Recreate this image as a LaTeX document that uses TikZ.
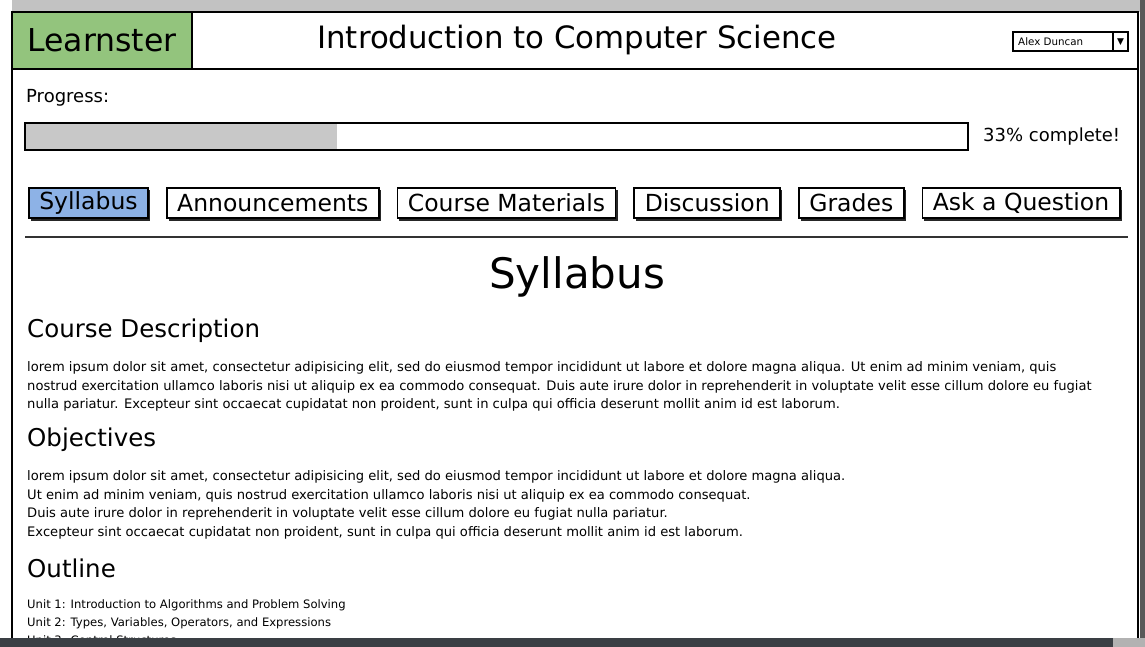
\documentclass[tikz,border=0pt]{standalone}
\usepackage{fontspec}
\setmainfont{DejaVu Sans}
\usetikzlibrary{positioning, calc, shadows}

\definecolor{learngreen}{HTML}{93C47D}
\definecolor{tabblue}{HTML}{8DB2E6}
\definecolor{bargray}{HTML}{C8C8C8}
\definecolor{chromegray}{HTML}{C2C2C2}
\definecolor{scrolldark}{HTML}{3A3F44}

\begin{document}
\begin{tikzpicture}[
  x=1pt, y=-1pt,
  frame/.style = {draw, line width=2pt},
  tab/.style = {draw, line width=1.6pt, fill=white, minimum height=30pt, inner xsep=10.5pt, inner ysep=0pt,
    font=\fontsize{23.5}{27}\selectfont,
    drop shadow={shadow xshift=2pt, shadow yshift=-2.5pt, opacity=1, fill=black!85}},
  heading/.style = {anchor=west, inner sep=0pt, font=\fontsize{24.5}{29}\selectfont},
  body/.style = {anchor=west, align=left, inner sep=0pt, font=\fontsize{13.1}{18.5}\selectfont},
  node distance=17pt
]
  \useasboundingbox (0,0) rectangle (1145,647);

  % Window chrome
  \fill[chromegray] (12,0) rectangle (1140,12);
  \fill[gray!70!black] (1140,0) rectangle (1145,647);

  % Header
  \fill[learngreen] (12,12) rectangle (192,69);
  \draw[frame] (12,640) -- (12,12) -- (1138,12) -- (1138,640);
  \draw[frame] (12,69) -- (1138,69);
  \draw[frame] (192,12) -- (192,69);
  \node[font=\fontsize{31.5}{37}\selectfont] (logo) at (102,40) {Learnster};
  \node[font=\fontsize{30.8}{36}\selectfont] (title) at (577,40) {Introduction to Computer Science};

  % User drop-down
  \draw[line width=1.2pt] (1013,32) rectangle (1128,51);
  \draw[line width=1.2pt] (1113,32) -- (1113,51);
  \node[anchor=west, inner sep=0pt, font=\fontsize{10.3}{12}\selectfont] (user) at (1018,41.5) {Alex Duncan};
  \node[inner sep=0pt, font=\fontsize{9}{10}\selectfont] (userarrow) at (1120.5,42) {▼};

  % Progress
  \node[anchor=west, inner sep=0pt, font=\fontsize{18}{21}\selectfont] (progresslabel) at (26,98) {Progress:};
  \fill[bargray] (25,123) rectangle (337,150);
  \draw[frame] (25,123) rectangle (968,150);
  \node[anchor=west, inner sep=0pt, font=\fontsize{18}{21}\selectfont] (progresstext) at (983,137) {33\% complete!};

  % Tabs
  \node[tab, fill=tabblue, anchor=west] (tabsyllabus) at (28,203) {Syllabus};
  \node[tab, right=of tabsyllabus] (tabannounce) {Announcements};
  \node[tab, right=of tabannounce] (tabmaterials) {Course Materials};
  \node[tab, right=of tabmaterials] (tabdiscussion) {Discussion};
  \node[tab, right=of tabdiscussion] (tabgrades) {Grades};
  \node[tab, right=of tabgrades] (tabask) {Ask a Question};
  \draw[line width=1.3pt, black!80] (25,237) -- (1128,237);

  % Page content
  \node[font=\fontsize{42}{48}\selectfont] (pagetitle) at (577,277) {Syllabus};

  \node[heading] (deschead) at (27,331) {Course Description};
  \node[body] (desctext) at (27,386.5) {lorem ipsum dolor sit amet, consectetur adipisicing elit, sed do eiusmod tempor incididunt ut labore et dolore magna aliqua. Ut enim ad minim veniam, quis\\
nostrud exercitation ullamco laboris nisi ut aliquip ex ea commodo consequat. Duis aute irure dolor in reprehenderit in voluptate velit esse cillum dolore eu fugiat\\
nulla pariatur. Excepteur sint occaecat cupidatat non proident, sunt in culpa qui officia deserunt mollit anim id est laborum.};

  \node[heading] (objhead) at (27,440) {Objectives};
  \node[body] (objtext) at (27,505) {lorem ipsum dolor sit amet, consectetur adipisicing elit, sed do eiusmod tempor incididunt ut labore et dolore magna aliqua.\\
Ut enim ad minim veniam, quis nostrud exercitation ullamco laboris nisi ut aliquip ex ea commodo consequat.\\
Duis aute irure dolor in reprehenderit in voluptate velit esse cillum dolore eu fugiat nulla pariatur.\\
Excepteur sint occaecat cupidatat non proident, sunt in culpa qui officia deserunt mollit anim id est laborum.};

  \node[heading] (outhead) at (27,568) {Outline};
  \node[body, font=\fontsize{11.6}{18}\selectfont] (outtext) at (27,622) {Unit 1: Introduction to Algorithms and Problem Solving\\
Unit 2: Types, Variables, Operators, and Expressions\\
Unit 3: Control Structures};

  % Scroll bar
  \fill[scrolldark] (0,638) rectangle (1113,647);
  \fill[gray!60] (1113,638) rectangle (1145,647);
\end{tikzpicture}
\end{document}
